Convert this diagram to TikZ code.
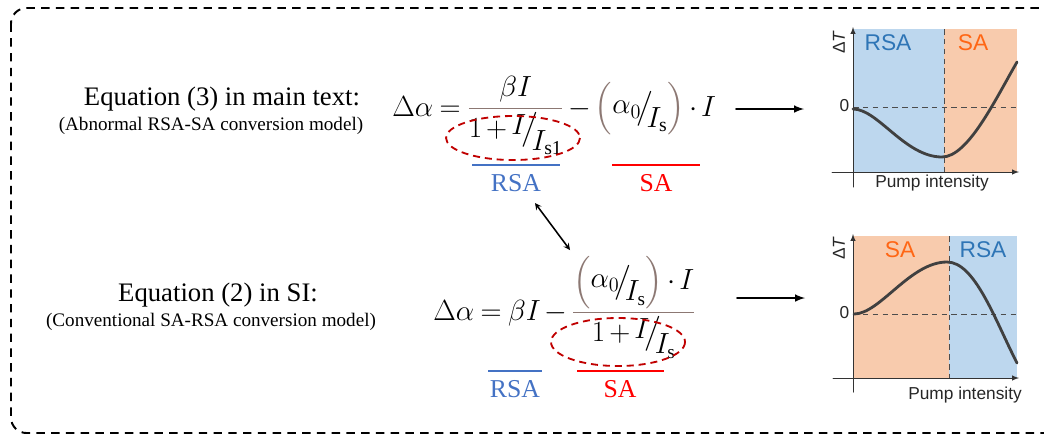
\documentclass[tikz,border=0pt]{standalone}
\usepackage{amsmath}
\usepackage{fontspec}
\setmainfont{Liberation Serif}
\setsansfont{Liberation Sans}
\definecolor{rsafill}{RGB}{189,215,238}
\definecolor{safill}{RGB}{248,203,173}
\definecolor{rsatxt}{RGB}{46,117,182}
\definecolor{satxt}{RGB}{255,102,20}
\definecolor{rsaline}{RGB}{68,114,196}
\definecolor{ringred}{RGB}{192,0,0}
\definecolor{barc}{RGB}{140,120,115}
\definecolor{curvec}{RGB}{64,64,64}
% skewed fractions with full-size parts
\newcommand{\skw}[2]{\raisebox{0.12em}{$#1$}\mkern-3mu\big/\mkern-4mu\raisebox{-0.45em}{$#2$}}
\newcommand{\skwb}[2]{\raisebox{0.08em}{$#1$}\mkern-3mu\big/\mkern-4mu\raisebox{-0.4em}{$#2$}}
\newcommand{\ratio}{{\color{barc}\left(\color{black}\skwb{\alpha_0}{I_{\mathrm{s}}}\color{barc}\right)}}
\tikzset{
  eqn/.style={inner sep=0pt,font=\fontsize{20}{24}\selectfont},
  title/.style={font=\fontsize{19}{22}\selectfont},
  subtitle/.style={font=\fontsize{13.6}{16}\selectfont},
  tag/.style={font=\fontsize{18.3}{22}\selectfont},
  ring/.style={ringred,line width=1.3pt,dash pattern=on 5pt off 3.5pt,line cap=butt},
  plotlab/.style={font=\sffamily\fontsize{16.2}{19}\selectfont},
  axlab/.style={font=\sffamily\fontsize{12.3}{14}\selectfont,text=black!85},
  axline/.style={black!80,line width=0.7pt,->},
  zeroline/.style={black!70,line width=0.6pt,dash pattern=on 4pt off 3pt,line cap=butt},
  respcurve/.style={curvec,line width=2pt},
}
\begin{document}
\begin{tikzpicture}[x=0.025cm,y=-0.025cm,>=latex,line join=round,line cap=round]
\useasboundingbox (0,0) rectangle (1044,437);
\clip (0,0) rectangle (1044,437);
% dashed frame
\draw[line width=1.4pt,dash pattern=on 6pt off 4.5pt,line cap=butt,rounded corners=11pt]
  (11,8) rectangle (1070,433);
\path
(736,109) coordinate (a1)
(804,109) coordinate (b1)
(737,298) coordinate (a2)
(805,298) coordinate (b2)
(535,203) coordinate (u)
(570,250) coordinate (v)
;
% left captions
\node[title] (titleA) at (222,99) {Equation (3) in main text:};
\node[subtitle] (subA) at (211,126) {(Abnormal RSA-SA conversion model)};
\node[title] (titleB) at (218,295) {Equation (2) in SI:};
\node[subtitle] (subB) at (211,322) {(Conventional SA-RSA conversion model)};
% equations
\node[eqn,anchor=base west] (eqA) at (392,116)
  {$\thickmuskip=4mu\medmuskip=2.5mu
   \Delta\alpha=\textcolor{barc}{\dfrac{\color{black}\beta I}{\color{black}1+\skw{I}{I_{\mathrm{s1}}}}}-\ratio\cdot I$};
\node[eqn,font=\fontsize{19.5}{23}\selectfont,anchor=base west] (eqB) at (433,320)
  {$\thickmuskip=4mu\medmuskip=2.5mu
   \Delta\alpha=\beta I-\textcolor{barc}{\dfrac{\color{black}\ratio\cdot I}{\color{black}1+\skw{I}{I_{\mathrm{s}}}}}$};
\draw[ring] (513,138) ellipse [x radius=67,y radius=22];
\draw[ring] (618,342) ellipse [x radius=67,y radius=24];
% regime marks
\draw[rsaline,line width=1.5pt,line cap=butt] (472,165) -- (560,165);
\draw[red,line width=1.5pt,line cap=butt] (612,165) -- (700,165);
\draw[rsaline,line width=1.5pt,line cap=butt] (488,371) -- (542,371);
\draw[red,line width=1.5pt,line cap=butt] (577,371) -- (664,371);
\node[tag,text=rsaline] (rsaA) at (516,183) {RSA};
\node[tag,text=red] (saA) at (656,183) {SA};
\node[tag,text=rsaline] (rsaB) at (515,389) {RSA};
\node[tag,text=red] (saB) at (620,389) {SA};
% arrows
\draw[->,line width=1.4pt] (a1) -- (b1);
\draw[->,line width=1.4pt] (a2) -- (b2);
\draw[<->,>=stealth,line width=1.1pt] (u) -- (v);
% upper plot
\fill[rsafill] (853,29) rectangle (944,172);
\fill[safill] (944,29) rectangle (1017,172);
\draw[zeroline] (944,29) -- (944,172);
\draw[zeroline] (853,107) -- (1017,107);
\draw[axline] (832,172) -- (1019,172);
\draw[axline] (853,187) -- (853,27);
\draw[respcurve] (853,109) .. controls (878,109) and (905,157) .. (942,157)
  .. controls (968,157) and (995,100) .. (1017,62);
\node[plotlab,text=rsatxt] (rsaP1) at (888,43) {RSA};
\node[plotlab,text=satxt] (saP1) at (973,43) {SA};
\node[axlab,rotate=90] (dtA) at (839,42) {Δ\textit{T}};
\node[axlab,anchor=east,inner sep=1pt] (zeroA) at (851,106) {0};
\node[axlab] (pumpA) at (932,183) {Pump intensity};
% lower plot
\fill[safill] (854,236) rectangle (949,378);
\fill[rsafill] (949,236) rectangle (1017,378);
\draw[zeroline] (949,236) -- (949,378);
\draw[zeroline] (853,314) -- (1017,314);
\draw[axline] (833,378) -- (1019,378);
\draw[axline] (853,392) -- (853,234);
\draw[respcurve] (854,314) .. controls (880,314) and (910,262) .. (947,262)
  .. controls (975,262) and (995,320) .. (1017,363);
\node[plotlab,text=satxt] (saP2) at (900,250) {SA};
\node[plotlab,text=rsatxt] (rsaP2) at (983,250) {RSA};
\node[axlab,rotate=90] (dtB) at (839,248) {Δ\textit{T}};
\node[axlab,anchor=east,inner sep=1pt] (zeroB) at (851,313) {0};
\node[axlab] (pumpB) at (965,395) {Pump intensity};
\end{tikzpicture}
\end{document}
